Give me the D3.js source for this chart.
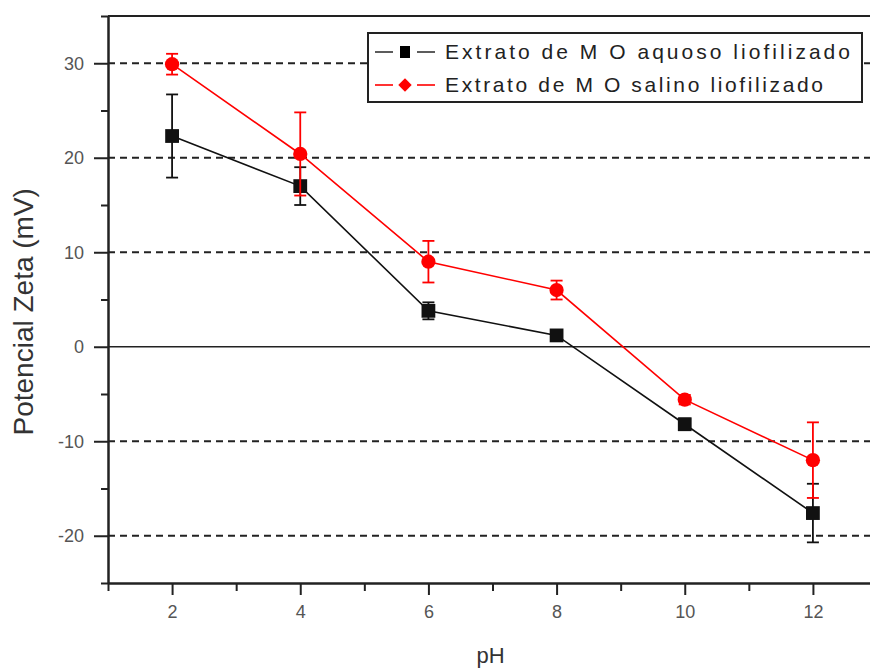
<!DOCTYPE html>
<html>
<head>
<meta charset="utf-8">
<script src="https://cdn.jsdelivr.net/npm/d3@7"></script>
<style>
    body { margin: 0; background: #fff; }
    svg { display: block; font-family: Arial, "Liberation Sans", sans-serif; }
</style>
</head>
<body>
<div id="grafica"></div>
<script>
/*--- datos ---*/
let ph          = [2, 4, 6, 8, 10, 12];
let aquoso      = [22.3, 17.0, 3.8, 1.2, -8.2, -17.6];
let aquoso_err  = [4.4, 2.0, 0.9, 0.5, 0.6, 3.1];
let salino      = [29.9, 20.4, 9.0, 6.0, -5.6, -12.0];
let salino_err  = [1.1, 4.4, 2.2, 1.0, 0.5, 4.0];

let nombres_series = ["Extrato de M O aquoso liofilizado", "Extrato de M O salino liofilizado"];
let ticks_x       = [2, 4, 6, 8, 10, 12];
let ticks_x_menor = [1, 3, 5, 7, 9, 11, 13];
let ticks_y       = [-20, -10, 0, 10, 20, 30];
let ticks_y_menor = [-25, -15, -5, 5, 15, 25, 35];
let lineas_guia   = [-20, -10, 10, 20, 30];

/*--- Variables técnicas ---*/
let width = 870
let height = 668

let x = d3.scaleLinear().domain([1, 13]).range([108, 877]);
let y = d3.scaleLinear().domain([-25, 35]).range([583, 16]);

let svg = d3.select("div#grafica").append("svg")
    .attr("width", width).attr("height", height);

// lineas punteadas de fondo
svg.append("g")
    .selectAll("line")
    .data(lineas_guia)
    .enter().append("line")
    .attr("x1", x(1)).attr("x2", x(13))
    .attr("y1", d => y(d)).attr("y2", d => y(d))
    .attr("stroke", "#222")
    .attr("stroke-width", 2)
    .attr("stroke-dasharray", "7,5");

// linea del cero
svg.append("line")
    .attr("x1", x(1)).attr("x2", x(13))
    .attr("y1", y(0)).attr("y2", y(0))
    .attr("stroke", "#222").attr("stroke-width", 1.6);

/*--- ejes ---*/
function estilo_eje(g) {
    g.select(".domain").attr("stroke", "#222").attr("stroke-width", 2);
    g.selectAll(".tick line").attr("stroke", "#222").attr("stroke-width", 2);
    g.selectAll(".tick text").attr("fill", "#555").style("font-size", "18px");
}

let formato = d => String(d);   // guion normal, como en la figura

svg.append("g")
    .attr("transform", "translate(0," + y(-25) + ")")
    .call(d3.axisBottom(x).tickValues(ticks_x_menor).tickSize(8).tickFormat("").tickSizeOuter(0))
    .call(estilo_eje);

svg.append("g")
    .attr("transform", "translate(0," + y(-25) + ")")
    .call(d3.axisBottom(x).tickValues(ticks_x).tickSize(12).tickPadding(10).tickFormat(formato).tickSizeOuter(0))
    .call(estilo_eje);

svg.append("g")
    .attr("transform", "translate(" + x(1) + ",0)")
    .call(d3.axisLeft(y).tickValues(ticks_y_menor).tickSize(7).tickFormat("").tickSizeOuter(0))
    .call(estilo_eje);

svg.append("g")
    .attr("transform", "translate(" + x(1) + ",0)")
    .call(d3.axisLeft(y).tickValues(ticks_y).tickSize(14).tickPadding(10).tickFormat(formato).tickSizeOuter(0))
    .call(estilo_eje);

// marco superior y derecho
svg.append("line")
    .attr("x1", x(1)).attr("x2", x(13))
    .attr("y1", y(35)).attr("y2", y(35))
    .attr("stroke", "#222").attr("stroke-width", 2);
svg.append("line")
    .attr("x1", x(13)).attr("x2", x(13))
    .attr("y1", y(35)).attr("y2", y(-25))
    .attr("stroke", "#222").attr("stroke-width", 2);

// titulos de ejes
svg.append("text")
    .attr("x", (x(1) + x(13)) / 2 - 2)
    .attr("y", 663)
    .attr("text-anchor", "middle")
    .attr("fill", "#333")
    .style("font-size", "22px")
    .text("pH");

svg.append("text")
    .attr("transform", "translate(33," + y(3.7) + ") rotate(-90)")
    .attr("text-anchor", "middle")
    .attr("fill", "#333")
    .style("font-size", "28px")
    .text("Potencial Zeta (mV)");

/*--- series ---*/
let linea = d3.line().x(d => x(d.ph)).y(d => y(d.v));

function dibuja_serie(valores, errores, color, forma) {
    let datos = ph.map((p, i) => ({ ph: p, v: valores[i], e: errores[i] }));
    let g = svg.append("g");

    g.append("path")
        .datum(datos)
        .attr("d", linea)
        .attr("fill", "none")
        .attr("stroke", color)
        .attr("stroke-width", 1.6);

    let barras = g.append("g").selectAll("g")
        .data(datos)
        .enter().append("g")
        .attr("stroke", color)
        .attr("stroke-width", 1.8);
    barras.append("line")
        .attr("x1", d => x(d.ph)).attr("x2", d => x(d.ph))
        .attr("y1", d => y(d.v + d.e)).attr("y2", d => y(d.v - d.e));
    barras.append("line")
        .attr("x1", d => x(d.ph) - 6).attr("x2", d => x(d.ph) + 6)
        .attr("y1", d => y(d.v + d.e)).attr("y2", d => y(d.v + d.e));
    barras.append("line")
        .attr("x1", d => x(d.ph) - 6).attr("x2", d => x(d.ph) + 6)
        .attr("y1", d => y(d.v - d.e)).attr("y2", d => y(d.v - d.e));

    g.append("g").selectAll("path")
        .data(datos)
        .enter().append("path")
        .attr("transform", d => "translate(" + x(d.ph) + "," + y(d.v) + ")")
        .attr("d", d3.symbol().type(forma).size(forma === d3.symbolSquare ? 190 : 160))
        .attr("fill", color);
}

dibuja_serie(aquoso, aquoso_err, "#111", d3.symbolSquare);
dibuja_serie(salino, salino_err, "#ff0000", d3.symbolCircle);

/*--- leyenda ---*/
let leyenda = svg.append("g");
leyenda.append("rect")
    .attr("x", 368).attr("y", 33)
    .attr("width", 494).attr("height", 69)
    .attr("fill", "#fff")
    .attr("stroke", "#222")
    .attr("stroke-width", 2);

let colores = ["#333", "#ff0000"];
let anchos = [405, 378];

nombres_series.forEach(function (nombre, i) {
    let yy = 52 + i * 33;
    leyenda.append("line")
        .attr("x1", 375).attr("x2", 393).attr("y1", yy).attr("y2", yy)
        .attr("stroke", colores[i]).attr("stroke-width", 1.6);
    leyenda.append("line")
        .attr("x1", 417).attr("x2", 435).attr("y1", yy).attr("y2", yy)
        .attr("stroke", colores[i]).attr("stroke-width", 1.6);
    if (i === 0) {
        leyenda.append("rect")
            .attr("x", 400).attr("y", yy - 6)
            .attr("width", 10).attr("height", 12)
            .attr("fill", "#000");
    } else {
        leyenda.append("path")
            .attr("transform", "translate(405," + yy + ") rotate(45)")
            .attr("d", d3.symbol().type(d3.symbolSquare).size(90))
            .attr("fill", "#ff0000");
    }
    leyenda.append("text")
        .attr("x", 445)
        .attr("y", yy + 7)
        .attr("fill", "#222")
        .attr("textLength", anchos[i])
        .attr("lengthAdjust", "spacing")
        .style("font-size", "21px")
        .text(nombre);
});
</script>
</body>
</html>
